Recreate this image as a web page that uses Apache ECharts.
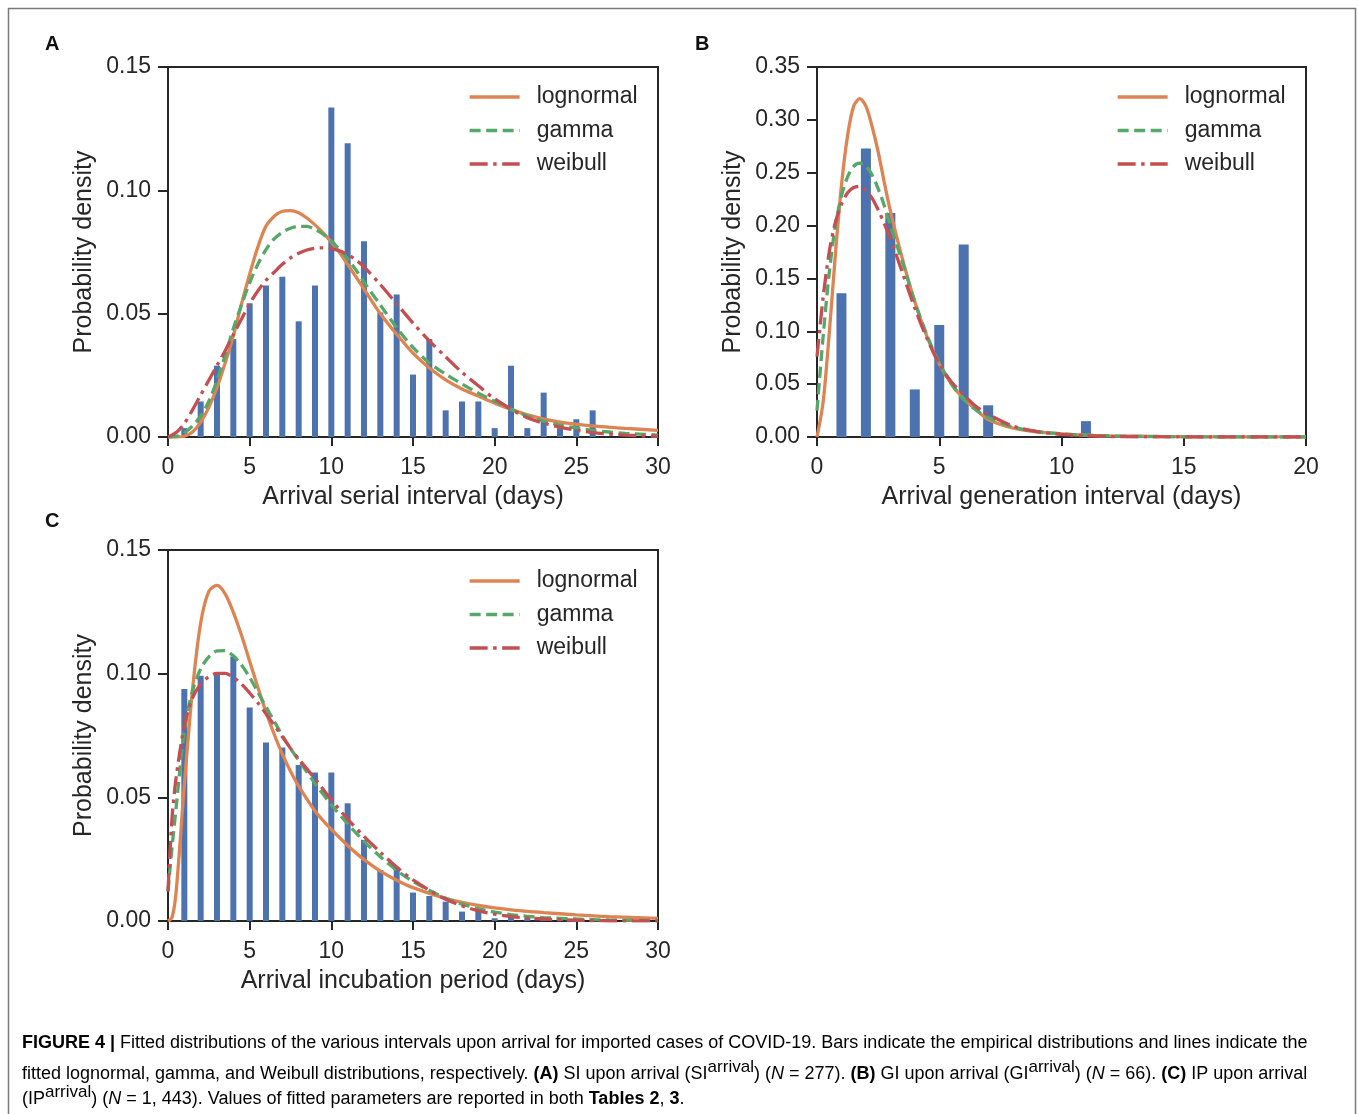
<!DOCTYPE html>
<html>
<head>
<meta charset="utf-8">
<title>Figure 4</title>
<script src="https://cdn.jsdelivr.net/npm/echarts@6/dist/echarts.min.js"></script>
<style>
  html, body { margin: 0; padding: 0; background: #fff; }
  #chart { width: 1358px; height: 1114px; }
</style>
</head>
<body>
<div id="chart"></div>
<script>
// (A) serial interval upon arrival, N = 277
const siDays = [1, 2, 3, 4, 5, 6, 7, 8, 9, 10, 11, 12, 13, 14, 15, 16, 17, 18, 19, 20, 21, 22, 23, 24, 25, 26];
const siDensity = [0.0036, 0.0144, 0.0289, 0.0397, 0.0542, 0.0614, 0.065, 0.0469, 0.0614, 0.1336, 0.1191, 0.0794, 0.0505,
  0.0578, 0.0253, 0.0397, 0.0108, 0.0144, 0.0144, 0.0036, 0.0289, 0.0036, 0.018, 0.0036, 0.0072, 0.0108];
const siCurveX = [0, 0.5, 1, 1.5, 2, 2.5, 3, 3.5, 4, 4.5, 5, 5.5, 6, 6.5, 7, 7.5, 8, 8.5, 9, 9.5,
  10, 10.5, 11, 11.5, 12, 13, 14, 15, 16, 17, 18, 19, 20, 22, 24, 26, 28, 30];
const siLognormal = [0, 0, 0.0003, 0.002, 0.006, 0.012, 0.02, 0.03, 0.041, 0.054,
  0.066, 0.077, 0.0855, 0.0895, 0.0915, 0.0918, 0.0909, 0.0888, 0.086, 0.0828,
  0.079, 0.0748, 0.07, 0.065, 0.06, 0.05, 0.0417, 0.034, 0.028, 0.0232, 0.0195, 0.0166, 0.0137,
  0.009, 0.006, 0.0045, 0.0035, 0.0027];
const siGamma = [0, 0.0003, 0.0017, 0.0045, 0.0085, 0.0145, 0.023, 0.033, 0.044, 0.0535,
  0.0625, 0.07, 0.076, 0.0803, 0.083, 0.0846, 0.0854, 0.0854, 0.0842, 0.0822,
  0.0795, 0.076, 0.0722, 0.0678, 0.0628, 0.0535, 0.0443, 0.0363, 0.03, 0.0255, 0.0215, 0.0178, 0.0145,
  0.0085, 0.0048, 0.0027, 0.0015, 0.0008];
const siWeibull = [0, 0.0018, 0.0055, 0.011, 0.017, 0.023, 0.029, 0.035, 0.0415, 0.0478,
  0.054, 0.0592, 0.0635, 0.0668, 0.07, 0.0726, 0.0745, 0.0758, 0.0765, 0.0767,
  0.0764, 0.0755, 0.074, 0.0718, 0.069, 0.0618, 0.054, 0.0462, 0.039, 0.0325, 0.0262, 0.0208, 0.0155,
  0.0078, 0.004, 0.0018, 0.0008, 0.0003];

// (B) generation interval upon arrival, N = 66
const giDays = [1, 2, 3, 4, 5, 6, 7, 11];
const giDensity = [0.136, 0.273, 0.212, 0.045, 0.106, 0.182, 0.03, 0.015];
const giCurveX = [0, 0.25, 0.5, 0.75, 1, 1.25, 1.5, 1.75, 2, 2.25, 2.5, 2.75, 3,
  3.5, 4, 4.5, 5, 5.5, 6, 6.5, 7, 8, 9, 10, 11, 12, 14, 16, 18, 20];
const giLognormal = [0, 0.033, 0.098, 0.172, 0.238, 0.285, 0.313, 0.32, 0.313, 0.294, 0.27, 0.241, 0.214,
  0.168, 0.128, 0.095, 0.069, 0.05, 0.036, 0.026, 0.0165, 0.0085, 0.0048, 0.003, 0.0018, 0.0011,
  0.0005, 0.0002, 0.0001, 0];
const giGamma = [0.025, 0.095, 0.155, 0.2, 0.228, 0.246, 0.256, 0.259, 0.256, 0.248, 0.235, 0.219, 0.2,
  0.165, 0.128, 0.096, 0.07, 0.05, 0.0355, 0.0255, 0.0185, 0.0095, 0.0052, 0.003, 0.0017, 0.001,
  0.0003, 0.0001, 0, 0];
const giWeibull = [0.076, 0.132, 0.175, 0.203, 0.22, 0.231, 0.236, 0.237, 0.233, 0.226, 0.215, 0.202, 0.188,
  0.155, 0.122, 0.093, 0.069, 0.052, 0.04, 0.029, 0.0215, 0.0105, 0.0052, 0.0025, 0.0011, 0.0005,
  0.0001, 0, 0, 0];

// (C) incubation period upon arrival, N = 1443
const ipDays = [1, 2, 3, 4, 5, 6, 7, 8, 9, 10, 11, 12, 13, 14, 15, 16, 17, 18, 19, 20, 21, 22, 23, 24, 25];
const ipDensity = [0.0938, 0.0992, 0.0998, 0.1069, 0.0863, 0.0722, 0.0701, 0.0631, 0.06, 0.06, 0.0476, 0.0328, 0.0206,
  0.0216, 0.0115, 0.0101, 0.0078, 0.0038, 0.0044, 0.0011, 0.0028, 0.0015, 0.0007, 0.0007, 0.0007];
const ipCurveX = [0, 0.25, 0.5, 1, 1.5, 2, 2.5, 3, 3.5, 4, 4.5, 5, 5.5, 6, 6.5, 7, 7.5, 8,
  9, 10, 11, 12, 13, 14, 15, 17, 19, 21, 23, 25, 27, 30];
const ipLognormal = [0, 0.0015, 0.012, 0.055, 0.0935, 0.1205, 0.1333, 0.1357, 0.1323, 0.1248, 0.1155, 0.105,
  0.0945, 0.0845, 0.0755, 0.0675, 0.0605, 0.0545, 0.0445, 0.037, 0.0305, 0.0248, 0.0202, 0.0165, 0.0135,
  0.0092, 0.0063, 0.0045, 0.0034, 0.0025, 0.0018, 0.0011];
const ipGamma = [0.012, 0.03, 0.046, 0.077, 0.093, 0.102, 0.1068, 0.1092, 0.1093, 0.1072, 0.1035, 0.0985,
  0.0925, 0.0866, 0.0808, 0.075, 0.0698, 0.065, 0.0556, 0.047, 0.0393, 0.0322, 0.026, 0.0205, 0.016,
  0.0092, 0.005, 0.0026, 0.0014, 0.0008, 0.0004, 0.0002];
const ipWeibull = [0.012, 0.042, 0.058, 0.079, 0.0902, 0.0958, 0.0988, 0.1001, 0.1001, 0.0985, 0.0958, 0.0922,
  0.0882, 0.0838, 0.0792, 0.0745, 0.0698, 0.0655, 0.0575, 0.049, 0.0412, 0.0342, 0.0278, 0.0218, 0.0166,
  0.0088, 0.0041, 0.0018, 0.0008, 0.0003, 0.0001, 0];

const fitNames = ['lognormal', 'gamma', 'weibull'];
const xTitles = ['Arrival serial interval (days)', 'Arrival generation interval (days)', 'Arrival incubation period (days)'];

const FONT = '"Liberation Sans", Arial, sans-serif';
const INK = '#262626';
const BLUE = '#4c72b0';
// 拟合曲线样式：实线 / 虚线 / 点划线
const fitStyles = {
  lognormal: { color: '#dd8452', type: 'solid' },
  gamma: { color: '#55a868', type: [11, 5.5] },
  weibull: { color: '#c44e52', type: [18, 5.5, 3.5, 5.5] }
};

const chart = echarts.init(document.getElementById('chart'));

function makeGrid(left, top, width, height) {
  return { left, top, width, height, show: true, borderColor: INK, borderWidth: 2, backgroundColor: 'transparent' };
}

function makeXAxis(idx, max) {
  return {
    type: 'value', gridIndex: idx, min: 0, max, interval: 5,
    name: xTitles[idx], nameLocation: 'middle', nameGap: 48,
    nameTextStyle: { fontSize: 25, color: INK, fontFamily: FONT },
    axisLine: { show: true, onZero: false, lineStyle: { color: INK, width: 2 } },
    axisTick: { show: true, inside: false, length: 9, lineStyle: { color: INK, width: 2 } },
    axisLabel: { fontSize: 23, color: INK, fontFamily: FONT, margin: 19 },
    splitLine: { show: false }
  };
}

function makeYAxis(idx, max) {
  return {
    type: 'value', gridIndex: idx, min: 0, max, interval: 0.05,
    name: 'Probability density', nameLocation: 'middle', nameGap: 71,
    nameTextStyle: { fontSize: 25, color: INK, fontFamily: FONT },
    axisLine: { show: true, onZero: false, lineStyle: { color: INK, width: 2 } },
    axisTick: { show: true, inside: false, length: 10, lineStyle: { color: INK, width: 2 } },
    axisLabel: { fontSize: 23, color: INK, fontFamily: FONT, margin: 17, formatter: (v) => v.toFixed(2) },
    splitLine: { show: false }
  };
}

function makeBars(idx, days, dens, width) {
  return {
    type: 'bar', xAxisIndex: idx, yAxisIndex: idx, barWidth: width, silent: true,
    itemStyle: { color: BLUE },
    data: days.map((d, i) => [d, dens[i]]),
    z: 2
  };
}

function makeCurve(idx, name, xs, ys) {
  const st = fitStyles[name];
  return {
    type: 'line', name, xAxisIndex: idx, yAxisIndex: idx,
    smooth: 0.3, symbol: 'none', silent: true,
    lineStyle: { color: st.color, width: 3.3, type: st.type, cap: 'butt' },
    itemStyle: { color: st.color },
    data: xs.map((x, i) => [x, ys[i]]),
    z: 3
  };
}

function makeLegend(left, top) {
  return {
    left, top, orient: 'vertical', selectedMode: false,
    itemWidth: 50, itemHeight: 14, itemGap: 9.5,
    data: fitNames,
    // 图例里只要线，不要圆点
    itemStyle: { color: 'rgba(0,0,0,0)', borderWidth: 0, opacity: 0 },
    lineStyle: { width: 3.3 },
    textStyle: { fontSize: 23, color: INK, fontFamily: FONT, lineHeight: 24, padding: [0, 0, 0, 12] }
  };
}

function panelLetter(text, x, y) {
  return {
    type: 'text', left: x - 8, top: y - 9,
    style: { text, fontSize: 20, fontWeight: 'bold', fill: '#111', fontFamily: FONT }
  };
}

// 图注：上标用 rich 文本
const capRich = {
  n: { fontSize: 18, color: '#3d3d3d', fontFamily: FONT, lineHeight: 24, verticalAlign: 'bottom' },
  b: { fontSize: 18, color: '#222', fontFamily: FONT, fontWeight: 'bold', lineHeight: 24, verticalAlign: 'bottom' },
  i: { fontSize: 18, color: '#3d3d3d', fontFamily: FONT, fontStyle: 'italic', lineHeight: 24, verticalAlign: 'bottom' },
  sup: { fontSize: 17, color: '#3d3d3d', fontFamily: FONT, lineHeight: 4, verticalAlign: 'top' }
};
const captionLines = [
  '{b|FIGURE 4 |}{n| Fitted distributions of the various intervals upon arrival for imported cases of COVID-19. Bars indicate the empirical distributions and lines indicate the}',
  '{n|fitted lognormal, gamma, and Weibull distributions, respectively. }{b|(A)}{n| SI upon arrival (SI}{sup|arrival}{n|) (}{i|N}{n| = 277). }{b|(B)}{n| GI upon arrival (GI}{sup|arrival}{n|) (}{i|N}{n| = 66). }{b|(C)}{n| IP upon arrival}',
  '{n|(IP}{sup|arrival}{n|) (}{i|N}{n| = 1, 443). Values of fitted parameters are reported in both }{b|Tables 2}{n|, }{b|3}{n|.}'
];
const captionY = [1043, 1071, 1096];

const option = {
  backgroundColor: '#fff',
  animation: false,
  grid: [
    makeGrid(168, 67, 490, 370),
    makeGrid(817, 67, 489, 370),
    makeGrid(168, 550, 490, 371)
  ],
  xAxis: [makeXAxis(0, 30), makeXAxis(1, 20), makeXAxis(2, 30)],
  yAxis: [makeYAxis(0, 0.15), makeYAxis(1, 0.35), makeYAxis(2, 0.15)],
  legend: [makeLegend(463, 80), makeLegend(1111, 80), makeLegend(463, 564)],
  series: [
    makeBars(0, siDays, siDensity, 6),
    makeCurve(0, 'lognormal', siCurveX, siLognormal),
    makeCurve(0, 'gamma', siCurveX, siGamma),
    makeCurve(0, 'weibull', siCurveX, siWeibull),
    makeBars(1, giDays, giDensity, 10),
    makeCurve(1, 'lognormal', giCurveX, giLognormal),
    makeCurve(1, 'gamma', giCurveX, giGamma),
    makeCurve(1, 'weibull', giCurveX, giWeibull),
    makeBars(2, ipDays, ipDensity, 6),
    makeCurve(2, 'lognormal', ipCurveX, ipLognormal),
    makeCurve(2, 'gamma', ipCurveX, ipGamma),
    makeCurve(2, 'weibull', ipCurveX, ipWeibull)
  ],
  graphic: [
    {
      type: 'polyline', silent: true,
      shape: { points: [[8.5, 1114], [8.5, 8.5], [1355.5, 8.5], [1355.5, 1114]] },
      style: { stroke: '#7a7a7a', lineWidth: 1.5, fill: null }
    },
    panelLetter('A', 53, 43),
    panelLetter('B', 703, 43),
    panelLetter('C', 53, 520)
  ].concat(captionLines.map((t, k) => ({
    type: 'text', left: 22, top: captionY[k] - 12 + (k === 0 ? 3 : 0),
    style: { text: t, rich: capRich, fontFamily: FONT }
  })))
};

chart.setOption(option);
</script>
</body>
</html>
